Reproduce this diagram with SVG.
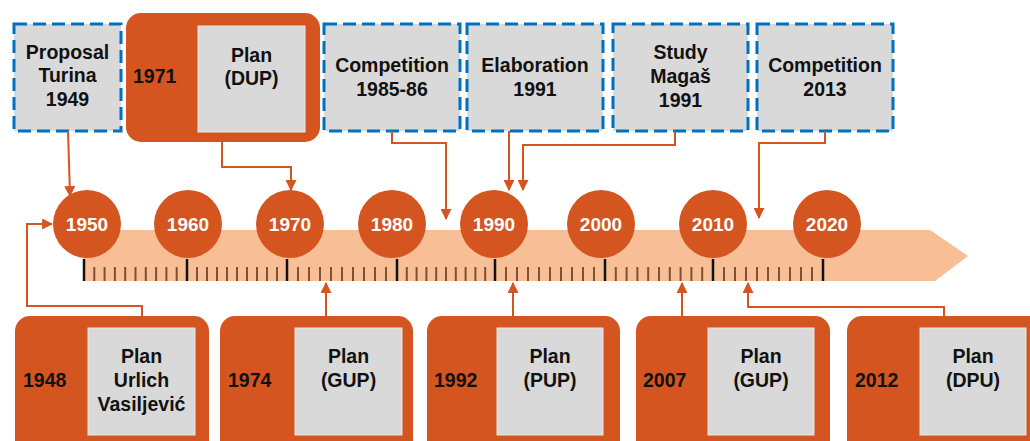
<svg xmlns="http://www.w3.org/2000/svg" width="1030" height="441" viewBox="0 0 1030 441">
<style>
.dash{fill:#D9D9D9;stroke:#0070C0;stroke-width:3;stroke-dasharray:13 6}
.ob{fill:#D4551F}
.gr{fill:#D9D9D9;stroke:#E8E8E8;stroke-width:1}
.t{font-family:"Liberation Sans",Arial,sans-serif;font-weight:bold;font-size:19.5px;fill:#111;text-anchor:middle}
.y{font-family:"Liberation Sans",Arial,sans-serif;font-weight:bold;font-size:19.5px;fill:#111}
.c{fill:#D4551F}
.ct{font-family:"Liberation Sans",Arial,sans-serif;font-weight:bold;font-size:19px;fill:#fff;text-anchor:middle}
.con{fill:none;stroke:#D4551F;stroke-width:2;marker-end:url(#ah)}
.mj{stroke:#111;stroke-width:2.5}
.mn{stroke:#7E5036;stroke-width:2}
</style>
<defs>
<marker id="ah" viewBox="0 0 10 10" refX="9" refY="5" markerWidth="11" markerHeight="11" orient="auto" markerUnits="userSpaceOnUse">
<path d="M0,0 L10,5 L0,10 z" fill="#D4551F"/>
</marker>
</defs>
<rect width="1030" height="441" fill="#fff"/>

<g id="timeline">
<path d="M83,230 L930,230 L968,256 L935,281 L83,281 Z" fill="#F8BE95"/>
<g id="ticks">
<line class="mj" x1="84" y1="259" x2="84" y2="281"/>
<line class="mj" x1="187" y1="259" x2="187" y2="281"/>
<line class="mj" x1="287" y1="259" x2="287" y2="281"/>
<line class="mj" x1="397" y1="259" x2="397" y2="281"/>
<line class="mj" x1="495" y1="259" x2="495" y2="281"/>
<line class="mj" x1="605" y1="259" x2="605" y2="281"/>
<line class="mj" x1="713" y1="259" x2="713" y2="281"/>
<line class="mj" x1="823" y1="259" x2="823" y2="281"/>
<path class="mn" d="M94.3,267V281M104.6,267V281M114.9,267V281M125.2,267V281M135.5,267V281M145.8,267V281M156.1,267V281M166.4,267V281M176.7,267V281
M197,267V281M207,267V281M217,267V281M227,267V281M237,267V281M247,267V281M257,267V281M267,267V281M277,267V281
M298,267V281M309,267V281M320,267V281M331,267V281M342,267V281M353,267V281M364,267V281M375,267V281M386,267V281
M406.8,267V281M416.6,267V281M426.4,267V281M436.2,267V281M446,267V281M455.8,267V281M465.6,267V281M475.4,267V281M485.2,267V281
M506,267V281M517,267V281M528,267V281M539,267V281M550,267V281M561,267V281M572,267V281M583,267V281M594,267V281
M615.8,267V281M626.6,267V281M637.4,267V281M648.2,267V281M659,267V281M669.8,267V281M680.6,267V281M691.4,267V281M702.2,267V281
M724,267V281M735,267V281M746,267V281M757,267V281M768,267V281M779,267V281M790,267V281M801,267V281M812,267V281"/>
</g>
</g>

<g id="c1950"><circle class="c" cx="87" cy="224" r="34"/><text class="ct" x="87" y="231">1950</text></g>
<g id="c1960"><circle class="c" cx="188" cy="224" r="34"/><text class="ct" x="188" y="231">1960</text></g>
<g id="c1970"><circle class="c" cx="290" cy="224" r="34"/><text class="ct" x="290" y="231">1970</text></g>
<g id="c1980"><circle class="c" cx="392" cy="224" r="34"/><text class="ct" x="392" y="231">1980</text></g>
<g id="c1990"><circle class="c" cx="494" cy="224" r="34"/><text class="ct" x="494" y="231">1990</text></g>
<g id="c2000"><circle class="c" cx="601" cy="224" r="34"/><text class="ct" x="601" y="231">2000</text></g>
<g id="c2010"><circle class="c" cx="713" cy="224" r="34"/><text class="ct" x="713" y="231">2010</text></g>
<g id="c2020"><circle class="c" cx="827" cy="224" r="34"/><text class="ct" x="827" y="231">2020</text></g>

<g id="n-proposal"><rect class="dash" x="14" y="24" width="107" height="107"/>
<text class="t" x="67.5" y="59">Proposal</text><text class="t" x="67.5" y="82">Turina</text><text class="t" x="67.5" y="106">1949</text></g>

<g id="n-1971"><rect class="ob" x="126" y="13" width="194" height="129" rx="15"/>
<rect class="gr" x="198" y="26" width="107" height="106"/>
<text class="y" x="133" y="83">1971</text>
<text class="t" x="251.5" y="62">Plan</text><text class="t" x="251.5" y="85">(DUP)</text></g>

<g id="n-comp1985"><rect class="dash" x="324" y="24" width="136" height="107"/>
<text class="t" x="392" y="72">Competition</text><text class="t" x="392" y="96">1985-86</text></g>

<g id="n-elab1991"><rect class="dash" x="467" y="24" width="136" height="107"/>
<text class="t" x="535" y="72">Elaboration</text><text class="t" x="535" y="96">1991</text></g>

<g id="n-study1991"><rect class="dash" x="613" y="24" width="135" height="107"/>
<text class="t" x="680.5" y="59">Study</text><text class="t" x="680.5" y="83">Magaš</text><text class="t" x="680.5" y="107">1991</text></g>

<g id="n-comp2013"><rect class="dash" x="757" y="24" width="136" height="107"/>
<text class="t" x="825" y="72">Competition</text><text class="t" x="825" y="96">2013</text></g>

<g id="n-1948"><rect class="ob" x="15" y="316" width="194" height="140" rx="15"/>
<rect class="gr" x="88" y="328" width="107" height="107"/>
<text class="y" x="23" y="387">1948</text>
<text class="t" x="141.5" y="363">Plan</text><text class="t" x="141.5" y="387">Urlich</text><text class="t" x="141.5" y="411">Vasiljević</text></g>

<g id="n-1974"><rect class="ob" x="220" y="316" width="193" height="140" rx="15"/>
<rect class="gr" x="295" y="328" width="107" height="107"/>
<text class="y" x="228" y="387">1974</text>
<text class="t" x="348.5" y="363">Plan</text><text class="t" x="348.5" y="387">(GUP)</text></g>

<g id="n-1992"><rect class="ob" x="427" y="316" width="193" height="140" rx="15"/>
<rect class="gr" x="497" y="328" width="106" height="107"/>
<text class="y" x="434" y="387">1992</text>
<text class="t" x="550" y="363">Plan</text><text class="t" x="550" y="387">(PUP)</text></g>

<g id="n-2007"><rect class="ob" x="636" y="316" width="194" height="140" rx="15"/>
<rect class="gr" x="708" y="328" width="106" height="107"/>
<text class="y" x="643" y="387">2007</text>
<text class="t" x="761" y="363">Plan</text><text class="t" x="761" y="387">(GUP)</text></g>

<g id="n-2012"><rect class="ob" x="847" y="316" width="200" height="140" rx="15"/>
<rect class="gr" x="920" y="328" width="106" height="107"/>
<text class="y" x="855" y="387">2012</text>
<text class="t" x="973" y="363">Plan</text><text class="t" x="973" y="387">(DPU)</text></g>

<g id="connectors">
<path class="con" d="M68,131 L70,196"/>
<path class="con" d="M222,142 V167 H291 V190"/>
<path class="con" d="M392,131 V143 H446 V219"/>
<path class="con" d="M509,131 V190"/>
<path class="con" d="M675,131 V145 H523 V190"/>
<path class="con" d="M825,131 V143 H759 V218"/>
<path class="con" d="M142,316 V306 H27 V224 H52"/>
<path class="con" d="M326,316 V283"/>
<path class="con" d="M513,316 V283"/>
<path class="con" d="M682,316 V283"/>
<path class="con" d="M944,316 V307 H748 V283"/>
</g>
</svg>
